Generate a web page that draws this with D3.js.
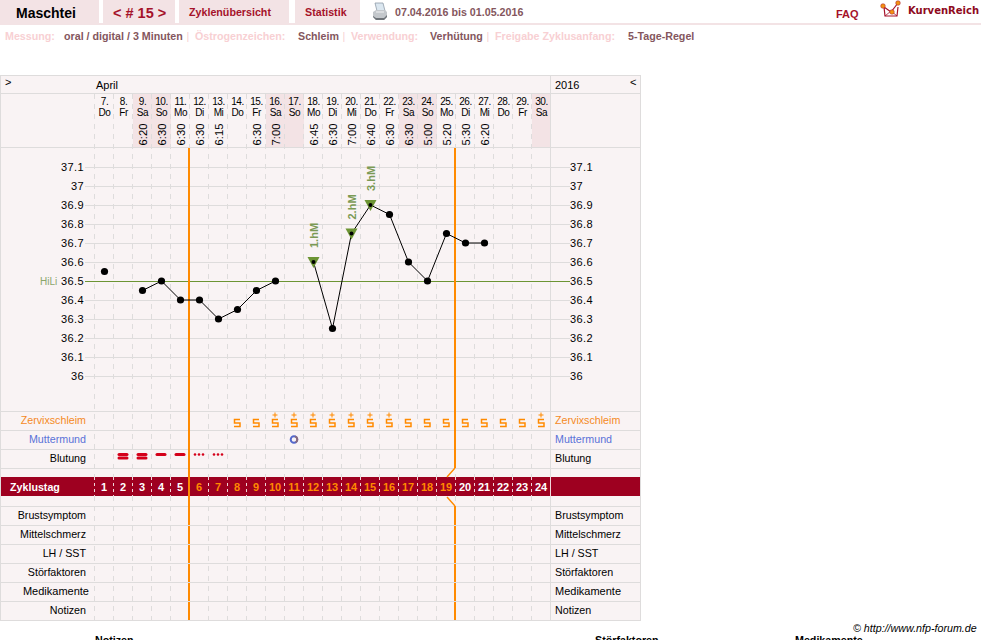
<!DOCTYPE html>
<html lang="de">
<head>
<meta charset="utf-8">
<title>Zyklus 15</title>
<script src="https://cdnjs.cloudflare.com/ajax/libs/d3/7.9.0/d3.min.js"></script>
<style>
  html, body { margin: 0; padding: 0; background: #fff; overflow: hidden; }
  svg { display: block; font-family: "Liberation Sans", Arial, sans-serif; }
  text { font-size: 11px; }
</style>
</head>
<body>
<svg id="chart" width="981" height="640"></svg>
<script>
// Calendar columns of the cycle
const dayNumbers = [7,8,9,10,11,12,13,14,15,16,17,18,19,20,21,22,23,24,25,26,27,28,29,30];
const weekdays = ["Do","Fr","Sa","So","Mo","Di","Mi","Do","Fr","Sa","So","Mo","Di","Mi","Do","Fr","Sa","So","Mo","Di","Mi","Do","Fr","Sa"];
const cycleDays = d3.range(1, 25);
const measureTimes = ["","","6:20","6:30","6:30","6:30","6:15","","6:30","7:00","","6:45","6:30","7:00","6:40","6:30","6:30","5:00","5:20","5:30","6:20","","",""];

// Basal temperature per cycle day, null where nothing was measured
const temperatures = [36.55,null,36.45,36.5,36.4,36.4,36.3,36.35,36.45,36.5,null,36.6,36.25,36.75,36.9,36.85,36.6,36.5,36.75,36.7,36.7,null,null,null];
const temperatureTicks = [37.1,37,36.9,36.8,36.7,36.6,36.5,36.4,36.3,36.2,36.1,36];
const coverLine = 36.5;
const peakLabels = [{ day: 12, label: "1.hM" }, { day: 14, label: "2.hM" }, { day: 15, label: "3.hM" }];

// Symptom rows
const mucus = [null,null,null,null,null,null,null,"S","S","S+","S+","S+","S+","S+","S+","S+","S","S","S","S","S","S","S","S+"];
const cervixDays = [11];
const bleeding = [null,"heavy","heavy","medium","medium","light","light"];
const fertileOrangeDays = d3.range(6, 20);
const phaseStartDays = [6, 20];
const upperRows = ["Zervixschleim","Muttermund","Blutung"];
const lowerRows = ["Brustsymptom","Mittelschmerz","LH / SST","Störfaktoren","Medikamente","Notizen"];
const infoItems = [
  ["Messung:", "oral / digital / 3 Minuten"],
  ["Östrogenzeichen:", "Schleim"],
  ["Verwendung:", "Verhütung"],
  ["Freigabe Zyklusanfang:", "5-Tage-Regel"]
];

const colors = {
  panel: "#f9f3f4", tab: "#f3e3e5", grid: "#dedcdc", orange: "#ff8a00", band: "#9e0020",
  red: "#a5122a", green: "#6c9433", soft: "#f8d0d3", value: "#84565d", blue: "#5468cc"
};
const bodySize = 10.7;

const svg = d3.select("#chart");
const x = d3.scaleBand().domain(cycleDays).range([95, 551]);
const y = d3.scaleLinear().domain([36, 37.1]).range([376, 167]);
const markX = d => x(d) + x.bandwidth() / 2;
const cx = d => markX(d) - 0.5;

// Page header
const tabs = [[0, 99], [103, 175], [179, 289], [295, 360]];
svg.selectAll("rect.tab").data(tabs).join("rect").attr("class", "tab")
  .attr("x", d => d[0]).attr("width", d => d[1] - d[0]).attr("y", 0).attr("height", 23).attr("fill", colors.tab);
svg.append("rect").attr("y", 23).attr("width", 981).attr("height", 2).attr("fill", colors.tab);

function label(text, px, py, opts = {}) {
  return svg.append("text").attr("x", px).attr("y", py).text(text)
    .attr("fill", opts.fill || "#000")
    .attr("text-anchor", opts.anchor || "start")
    .style("font-weight", opts.weight || "normal")
    .style("font-size", (opts.size || bodySize) + "px")
    .style("font-style", opts.style || "normal")
    .style("font-family", opts.family || null);
}
label("Maschtei", 16, 18, { weight: "bold", size: 14 });
label("< # 15 >", 113, 18, { weight: "bold", size: 14.5, fill: colors.red });
label("Zyklenübersicht", 189, 16, { weight: "bold", fill: colors.red });
label("Statistik", 305, 16, { weight: "bold", fill: colors.red });
label("07.04.2016 bis 01.05.2016", 395, 16, { weight: "bold", fill: colors.value });
label("FAQ", 836, 18, { weight: "bold", fill: colors.red, size: 11 });
label("KurvenReich", 908, 14, { weight: "bold", size: 10, fill: "#8e0a20", family: "DejaVu Sans" });

// Printer icon
const printer = svg.append("g").attr("transform", "translate(373,3)");
printer.append("path").attr("d", "M2,0H10L12,8H4Z").attr("fill", "#dbe7f0").attr("stroke", "#8f9ca8").attr("stroke-width", 0.8);
printer.append("path").attr("d", "M0,9L3,7H12L14,9V14L11,17H3L0,14Z").attr("fill", "#c3c7cb");
printer.append("path").attr("d", "M0,13L3,15H11L14,12V14L11,17H3L0,14Z").attr("fill", "#6f7479");
printer.append("path").attr("d", "M3,9H11").attr("stroke", "#f2f3f4").attr("stroke-width", 1);

// Logo mark
const logo = svg.append("g").attr("transform", "translate(881,1)");
logo.append("path").attr("d", "M3,6L4,15H16L17,6M3,6L10,11L17,2").attr("fill", "none").attr("stroke", "#a5122a").attr("stroke-width", 1.2);
logo.append("path").attr("d", "M4,15L10,10L16,15").attr("fill", "none").attr("stroke", "#a5122a").attr("stroke-width", 0.8);
logo.selectAll("circle").data([[2, 5], [11, 11], [17, 2]]).join("circle")
  .attr("cx", d => d[0]).attr("cy", d => d[1]).attr("r", 2.3).attr("fill", "#f29312").attr("stroke", "#a5122a").attr("stroke-width", 0.5);

// Method line below the header
const infoX = [[5, 64], [195, 298], [351, 430], [495, 628]];
const sepX = [188, 344, 488];
infoItems.forEach((item, i) => {
  label(item[0], infoX[i][0], 40, { weight: "bold", fill: colors.soft });
  label(item[1], infoX[i][1], 40, { weight: "bold", fill: colors.value });
});
sepX.forEach(px => label("|", px, 40, { fill: colors.soft, anchor: "middle" }));

// Table background and weekend shading
svg.append("rect").attr("x", 0).attr("y", 75).attr("width", 641).attr("height", 546).attr("fill", colors.panel);
const weekendDays = cycleDays.filter(d => ["Sa", "So"].includes(weekdays[d - 1]));
svg.selectAll("rect.weekend").data(weekendDays).join("rect").attr("class", "weekend")
  .attr("x", d => x(d)).attr("width", x.bandwidth()).attr("y", 94).attr("height", 54).attr("fill", colors.tab);

// Cycle-day band
svg.append("rect").attr("x", 1).attr("y", 477).attr("width", 639).attr("height", 19).attr("fill", colors.band);

// Dashed day separators
const sepPath = d3.path();
cycleDays.forEach(d => {
  const px = x(d) - 0.5;
  sepPath.moveTo(px, 94); sepPath.lineTo(px, 477);
  sepPath.moveTo(px, 496); sepPath.lineTo(px, 620);
});
svg.append("path").attr("d", sepPath.toString()).attr("fill", "none")
  .attr("stroke", colors.grid).attr("stroke-dasharray", "5,5");
svg.selectAll("line.bandsep").data(cycleDays).join("line").attr("class", "bandsep")
  .attr("x1", d => x(d) - 0.5).attr("x2", d => x(d) - 0.5).attr("y1", 477).attr("y2", 496)
  .attr("stroke", "#f0d6da").attr("stroke-dasharray", "3,3");

// Row rules and table frame
const rowRules = [75.5, 93.5, 147.5, 411.5, 430.5, 449.5, 468.5, 506.5, 525.5, 544.5, 563.5, 582.5, 601.5, 620.5];
svg.selectAll("line.rule").data(rowRules).join("line").attr("class", "rule")
  .attr("x1", 0).attr("x2", 641).attr("y1", d => d).attr("y2", d => d).attr("stroke", colors.grid);
[0.5, 550.5, 640.5].forEach(px => {
  svg.append("line").attr("x1", px).attr("x2", px).attr("y1", 75).attr("y2", 621).attr("stroke", colors.grid);
});
svg.append("line").attr("x1", 550.5).attr("x2", 550.5).attr("y1", 477).attr("y2", 496).attr("stroke", "#f0d6da");

// Calendar header
label(">", 5, 86, { size: 11 });
label("April", 96, 89, { size: 11 });
label("2016", 555, 89, { size: 11 });
label("<", 630, 86, { size: 11 });
const dateCols = svg.append("g").selectAll("g").data(cycleDays).join("g")
  .attr("transform", d => `translate(${markX(d)},0)`);
dateCols.append("text").attr("y", 105).attr("text-anchor", "middle").style("font-size", "10px")
  .style("letter-spacing", "-0.4px").text(d => dayNumbers[d - 1] + ".");
dateCols.append("text").attr("y", 116).attr("text-anchor", "middle").style("font-size", "10px")
  .style("letter-spacing", "-0.4px").text(d => weekdays[d - 1]);
dateCols.append("text").attr("transform", "translate(4,145.5) rotate(-90)").style("font-size", "11.3px")
  .text(d => measureTimes[d - 1]);

// Temperature grid
svg.selectAll("line.tempgrid").data(temperatureTicks.filter(t => t !== coverLine)).join("line").attr("class", "tempgrid")
  .attr("x1", 85).attr("x2", 570).attr("y1", d => Math.round(y(d)) + 0.5).attr("y2", d => Math.round(y(d)) + 0.5)
  .attr("stroke", colors.grid);
svg.append("line").attr("x1", 85).attr("x2", 570)
  .attr("y1", Math.round(y(coverLine)) + 0.5).attr("y2", Math.round(y(coverLine)) + 0.5)
  .attr("stroke", colors.green);
label("HiLi", 40, 285, { fill: "#8aa66a", size: 10 });

// Temperature axes on both sides
const styleAxis = g => {
  g.select(".domain").remove();
  g.selectAll(".tick line").remove();
  g.selectAll(".tick text").attr("fill", "#000").style("font-size", "11px")
    .style("letter-spacing", "0.4px").style("font-family", '"Liberation Sans", Arial, sans-serif');
};
const axisFormat = t => String(t);
svg.append("g").attr("transform", "translate(84,0)")
  .call(d3.axisLeft(y).tickValues(temperatureTicks).tickFormat(axisFormat).tickSize(0).tickPadding(0)).call(styleAxis);
svg.append("g").attr("transform", "translate(570,0)")
  .call(d3.axisRight(y).tickValues(temperatureTicks).tickFormat(axisFormat).tickSize(0).tickPadding(0))
  .call(styleAxis);

// Orange phase boundaries, with a kink around the band at the later one
const phaseX = d => x(d) - 1;
const kink = phaseX(phaseStartDays[1]);
const phasePath = d3.path();
phasePath.moveTo(phaseX(phaseStartDays[0]), 148); phasePath.lineTo(phaseX(phaseStartDays[0]), 620);
phasePath.moveTo(kink, 148); phasePath.lineTo(kink, 468);
phasePath.moveTo(kink, 506); phasePath.lineTo(kink, 620);
svg.append("path").attr("d", phasePath.toString()).attr("fill", "none").attr("stroke", colors.orange).attr("stroke-width", 2);
svg.append("path").attr("d", `M${kink},468L${kink - 8},477M${kink - 8},497L${kink},506`)
  .attr("fill", "none").attr("stroke", colors.orange).attr("stroke-width", 1.4);

// Lower-table cell borders stay visible across the boundaries
svg.selectAll("line.rulecross").data(rowRules.filter(r => r > 520 && r < 610)).join("line").attr("class", "rulecross")
  .attr("x1", 187).attr("x2", 457).attr("y1", d => d).attr("y2", d => d).attr("stroke", colors.grid);

// Temperature curve, broken where a day has no reading
const line = d3.line().defined(d => temperatures[d - 1] !== null).x(markX).y(d => y(temperatures[d - 1]));
svg.append("path").attr("d", line(cycleDays)).attr("fill", "none").attr("stroke", "#000").attr("stroke-width", 1);

// Peak markers: green triangles with rotated captions
const peakDays = peakLabels.map(p => p.day);
const peaks = svg.append("g").selectAll("g").data(peakLabels).join("g")
  .attr("transform", d => `translate(${markX(d.day)},${y(temperatures[d.day - 1])})`);
peaks.append("path").attr("d", "M-6,-5H6L0,6Z").attr("fill", colors.green);
peaks.append("text").attr("transform", "translate(4,-14) rotate(-90)").attr("fill", "#7b9a55")
  .style("font-weight", "bold").style("font-size", "11px").text(d => d.label);

svg.selectAll("circle.temp").data(cycleDays.filter(d => temperatures[d - 1] !== null)).join("circle")
  .attr("class", "temp").attr("cx", markX).attr("cy", d => y(temperatures[d - 1]))
  .attr("r", d => peakDays.includes(d) ? 2 : 3.6).attr("fill", "#000");

// Row captions on both sides
const rowY = { "Zervixschleim": 424, "Muttermund": 443, "Blutung": 462, "Brustsymptom": 519, "Mittelschmerz": 538, "LH / SST": 557, "Störfaktoren": 576, "Medikamente": 595, "Notizen": 614 };
const rowFill = { "Zervixschleim": "#f58a1f", "Muttermund": "#5a72d8" };
upperRows.concat(lowerRows).forEach(name => {
  const wide = name === "Medikamente";
  label(name, wide ? 89 : 86, rowY[name], { anchor: "end", fill: rowFill[name] || "#000", size: wide ? 11 : bodySize });
  label(name, 555, rowY[name], { fill: rowFill[name] || "#000", size: wide ? 11 : bodySize });
});
label("Zyklustag", 10, 491, { weight: "bold", fill: "#fff" });

// Mucus symbols
const mucusDays = cycleDays.filter(d => mucus[d - 1]);
const mucusG = svg.append("g").selectAll("g").data(mucusDays).join("g")
  .attr("transform", d => `translate(${cx(d)},0)`);
mucusG.append("path").attr("d", "M3,419.5H-2.5V423H3V426.5H-3")
  .attr("fill", "none").attr("stroke", colors.orange).attr("stroke-width", 1.5);
mucusG.filter(d => mucus[d - 1] === "S+").append("path").attr("d", "M-2.5,415H2.5M0,412.5V417.5")
  .attr("fill", "none").attr("stroke", colors.orange).attr("stroke-width", 1);

// Cervix position
svg.selectAll("circle.cervix").data(cervixDays).join("circle").attr("class", "cervix")
  .attr("cx", cx).attr("cy", 439.5).attr("r", 3.3).attr("fill", colors.panel)
  .attr("stroke", colors.blue).attr("stroke-width", 2);
svg.selectAll("path.cervixshade").data(cervixDays).join("path").attr("class", "cervixshade")
  .attr("transform", d => `translate(${cx(d)},439.5)`)
  .attr("d", d3.arc()({ innerRadius: 2.4, outerRadius: 4.3, startAngle: 0.3, endAngle: 2.6 }))
  .attr("fill", "#8a6a7a");

// Bleeding intensity
const bleedG = svg.append("g").selectAll("g").data(cycleDays.filter(d => bleeding[d - 1])).join("g")
  .attr("transform", d => `translate(${cx(d)},0)`);
const bleedBars = { heavy: [454.5, 458], medium: [454.5] };
bleedG.each(function (d) {
  const g = d3.select(this), kind = bleeding[d - 1];
  if (kind === "light") {
    g.selectAll("circle").data([-4, 0, 4]).join("circle")
      .attr("cx", o => o).attr("cy", 454.5).attr("r", 1.3).attr("fill", "#d4001a");
  } else {
    g.selectAll("rect").data(bleedBars[kind]).join("rect")
      .attr("x", -5.5).attr("width", 11).attr("y", o => o - 1.5).attr("height", 3).attr("rx", 1.5).attr("fill", "#d4001a");
  }
});

// Cycle-day numbers
svg.selectAll("text.cycleday").data(cycleDays).join("text").attr("class", "cycleday")
  .attr("x", cx).attr("y", 491).attr("text-anchor", "middle")
  .attr("fill", d => fertileOrangeDays.includes(d) ? colors.orange : "#fff")
  .style("font-weight", "bold").text(d => d);

// Footer
label("© http://www.nfp-forum.de", 853, 632, { style: "italic" });
label("Notizen", 95, 644, { weight: "bold" });
label("Störfaktoren", 595, 644, { weight: "bold" });
label("Medikamente", 795, 644, { weight: "bold" });
</script>
</body>
</html>
